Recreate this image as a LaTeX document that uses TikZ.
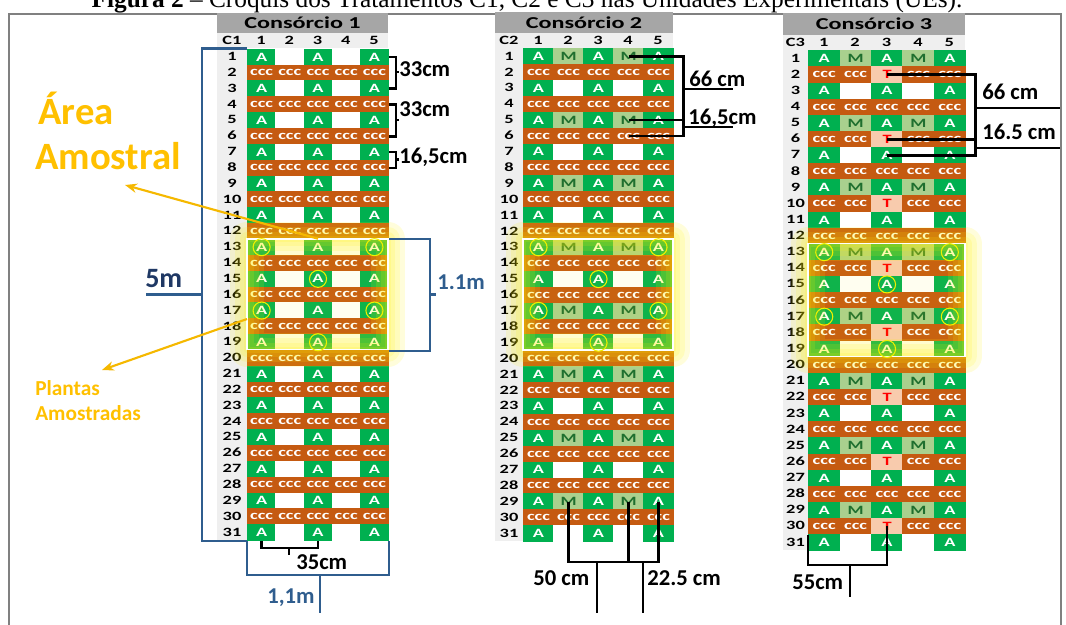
\documentclass[tikz,border=0pt]{standalone}
\usepackage{fontspec}
\setmainfont{Liberation Serif}
\newfontfamily\tabfont[FakeStretch=1.45]{Carlito Bold}
\newfontfamily\notefont{Carlito}
\usepackage{tikz}
\usetikzlibrary{arrows.meta}
\definecolor{cgreen}{HTML}{00B050}
\definecolor{corange}{HTML}{C55A11}
\definecolor{mgreen}{HTML}{A9D08E}
\definecolor{mtext}{HTML}{1F6F2F}
\definecolor{tpeach}{HTML}{F8CBAD}
\definecolor{tred}{HTML}{FF0000}
\definecolor{lgrey}{HTML}{EFEFEF}
\definecolor{hgrey}{HTML}{A6A6A6}
\definecolor{bline}{HTML}{2F5D8E}
\definecolor{bnavy}{HTML}{1F3864}
\definecolor{gold}{HTML}{F5B800}
\definecolor{goldtext}{HTML}{FFC000}
\definecolor{framegrey}{HTML}{808080}
\definecolor{glow}{HTML}{FFF200}
\definecolor{ringyel}{HTML}{F0F000}

\begin{document}
\begin{tikzpicture}[x=0.75pt,y=-0.75pt,
  cellbox/.style={rectangle,inner sep=0pt,anchor=north west,font=\tabfont\fontsize{9.5}{9.5}\selectfont},
  labtext/.style={inner sep=0pt,font=\tabfont\fontsize{9.5}{9.5}\selectfont},
  headtext/.style={inner sep=0pt,font=\tabfont\fontsize{12.5}{12.5}\selectfont},
  note/.style={inner sep=0pt,anchor=base west,font=\notefont\bfseries\fontsize{17}{17}\selectfont},
  dimline/.style={line width=2pt},
  blueline/.style={draw=bline,line width=1.6pt},
  goldarrow/.style={draw=gold,line width=1.6pt,-{Stealth[length=9pt,width=7pt]}},
  ring/.style={draw=ringyel,line width=0.8pt}]
  \useasboundingbox (0,0) rectangle (1066,624);
  \draw[framegrey,line width=1.5pt] (9,640) -- (9,14) -- (1061,14) -- (1061,640);
  \node[anchor=base,inner sep=0pt] (title) at (527,8) {\fontsize{19}{19}\selectfont\textbf{Figura 2} – Croquis dos Tratamentos C1, C2 e C3 nas Unidades Experimentais (UEs).};

  \foreach \p/\lx/\gx/\cw/\ty/\hy/\ry/\rh in {1/217/247/28.2/13/33/48.5/15.85,2/495/523/30/12/33/48/15.9,3/783/808/31.4/13/35/50/16.13}{
    \fill[hgrey] (\lx,\ty) rectangle ({\gx+5*\cw},\hy);
    \node[headtext] (hd\p) at ({(\lx+\gx+5*\cw)/2},{(\ty+\hy)/2}) {Consórcio \p};
    \fill[lgrey] (\lx,\hy) rectangle ({\gx+5*\cw},\ry);
    \fill[lgrey] (\lx,\ry) rectangle (\gx,{\ry+31*\rh});
    \node[labtext] (cc\p) at ({(\lx+\gx)/2},{(\hy+\ry)/2}) {C\p};
    \foreach \c in {1,...,5}
      \node[labtext] (cl\p-\c) at ({\gx+(\c-0.5)*\cw},{(\hy+\ry)/2}) {\c};
    \foreach \r in {1,...,31}{
      \node[labtext] (rl\p-\r) at ({(\lx+\gx)/2},{\ry+(\r-0.5)*\rh}) {\r};
      \pgfmathtruncatemacro\rmod{mod(\r,4)}
      \foreach \c in {1,...,5}{
        \ifodd\r
          \ifodd\c \def\fcol{cgreen}\def\tcol{white}\def\celltxt{A}%
          \else
            \def\fcol{white}\def\tcol{black}\def\celltxt{}%
            \ifnum\p>1 \ifnum\rmod=1 \def\fcol{mgreen}\def\tcol{mtext}\def\celltxt{M}\fi\fi
          \fi
        \else
          \def\fcol{corange}\def\tcol{white}\def\celltxt{ccc}%
          \ifnum\p=3 \ifnum\rmod=2 \ifnum\c=3 \def\fcol{tpeach}\def\tcol{tred}\def\celltxt{T}\fi\fi\fi
        \fi
        \node[cellbox,fill=\fcol,text=\tcol,minimum width={\cw*0.75pt+0.4pt},minimum height={\rh*0.75pt+0.4pt}] (c\p-\r-\c) at ({\gx+(\c-1)*\cw},{\ry+(\r-1)*\rh}) {\celltxt};
      }
    }
    \fill[glow,opacity=0.06] (\gx,{\ry+12*\rh}) rectangle ({\gx+5*\cw},{\ry+19*\rh});
    \foreach \w in {34,24,14,6}
      \draw[glow,opacity=0.14,line width=\w*0.75pt,line join=round] (\gx,{\ry+12*\rh}) rectangle ({\gx+5*\cw},{\ry+19*\rh});
    \draw[white,line width=1.2pt] (\gx,{\ry+12*\rh}) rectangle ({\gx+5*\cw},{\ry+19*\rh});
    \foreach \r/\c in {13/1,13/5,15/3,17/1,17/5,19/3}
      \draw[ring] (c\p-\r-\c.center) circle[radius=6.4pt];
  }

  \coordinate (lb) at (202,294.5);
  \coordinate (lbt) at (146,294.5);
  \draw[blueline] (c1-1-1.north west) -| (lb) |- (c1-31-1.south west);
  \draw[blueline] (lb) -- (lbt);
  \node[note,text=bnavy,font=\notefont\bfseries\fontsize{21}{21}\selectfont] (m5) at (145,287) {5m};
  \coordinate (rb) at (430,294.5);
  \coordinate (rbt) at (436,294.5);
  \draw[blueline] (c1-13-5.north east) -| (rb) |- (c1-19-5.south east);
  \draw[blueline] (rb) -- (rbt);
  \node[note,text=bline] (m11a) at (437,289) {1.1m};
  \coordinate (bb) at (320,575);
  \coordinate (bbt) at (320,613);
  \draw[blueline] (c1-31-1.south west) |- (bb) -| (c1-31-5.south east);
  \draw[blueline] (bb) -- (bbt);
  \node[note,text=bline] (m11b) at (267,603) {1,1m};

  \coordinate (b35) at (289,548);
  \draw[dimline] (c1-31-1.south) |- (b35) -| (c1-31-3.south);
  \draw[dimline] (b35) -- ++(0,7);
  \node[note] (d35) at (296,569) {35cm};
  \draw[dimline] (c1-1-5.east) -- ++(7,0) |- (c1-3-5.east);
  \draw[dimline] (395,72) -- ++(4,0);
  \node[note] (d33a) at (399,77) {33cm};
  \draw[dimline] (c1-4-5.east) -- ++(7,0) |- (c1-6-5.east);
  \draw[dimline] (395,120) -- ++(4,0);
  \node[note] (d33b) at (399,117) {33cm};
  \draw[dimline] (c1-7-5.east) -- ++(7,0) |- (c1-8-5.east);
  \draw[dimline] (395,159.5) -- ++(4,0);
  \node[note] (d165a) at (399,163) {16,5cm};

  \draw[dimline] (c2-1-4.center) -- ++(55,0) |- (c2-6-4.center);
  \draw[dimline] (c2-5-4.center) -- ++(55,0);
  \draw[dimline] (683,89) -- (733,89);
  \draw[dimline] (683,127) -- (733,127);
  \node[note] (d66a) at (689,87) {66 cm};
  \node[note] (d165b) at (688,125) {16,5cm};
  \coordinate (b2) at (600,562);
  \draw[dimline] (c2-29-2.center) |- (b2) -| (c2-29-5.center);
  \draw[dimline] (c2-29-4.center) -- (c2-29-4.center |- b2);
  \draw[dimline] (597,562) -- (597,613);
  \draw[dimline] (643,562) -- (643,613);
  \node[note] (d50) at (533,585) {50 cm};
  \node[note] (d225) at (647,585) {22.5 cm};

  \draw[dimline] (c3-2-3.center) -- ++(88.5,0) |- (c3-7-3.center);
  \draw[dimline] (c3-6-3.center) -- ++(88.5,0);
  \draw[dimline] (975,108) -- (1060,108);
  \draw[dimline] (975,148) -- (1060,148);
  \node[note] (d66b) at (982,100) {66 cm};
  \node[note] (d165c) at (982,140) {16.5 cm};
  \coordinate (b3) at (850,565);
  \draw[dimline] (c3-30-1.south west) |- (b3) -| (c3-30-3.center);
  \draw[dimline] (b3) -- (850,597);
  \node[note] (d55) at (792,589) {55cm};

  \node[note,text=goldtext,font=\notefont\bfseries\fontsize{29}{29}\selectfont] (area1) at (38,125) {Área};
  \node[note,text=goldtext,font=\notefont\bfseries\fontsize{29}{29}\selectfont] (area2) at (35,170) {Amostral};
  \node[note,text=goldtext,font=\notefont\bfseries\fontsize{16}{16}\selectfont] (pl1) at (35,395) {Plantas};
  \node[note,text=goldtext,font=\notefont\bfseries\fontsize{16}{16}\selectfont] (pl2) at (35,420) {Amostradas};
  \coordinate (tipA) at (125,185);
  \coordinate (tipP) at (102,370);
  \draw[goldarrow] (c1-13-3.north) -- (tipA);
  \draw[goldarrow] (c1-17-1.south west) -- (tipP);
\end{tikzpicture}
\end{document}
